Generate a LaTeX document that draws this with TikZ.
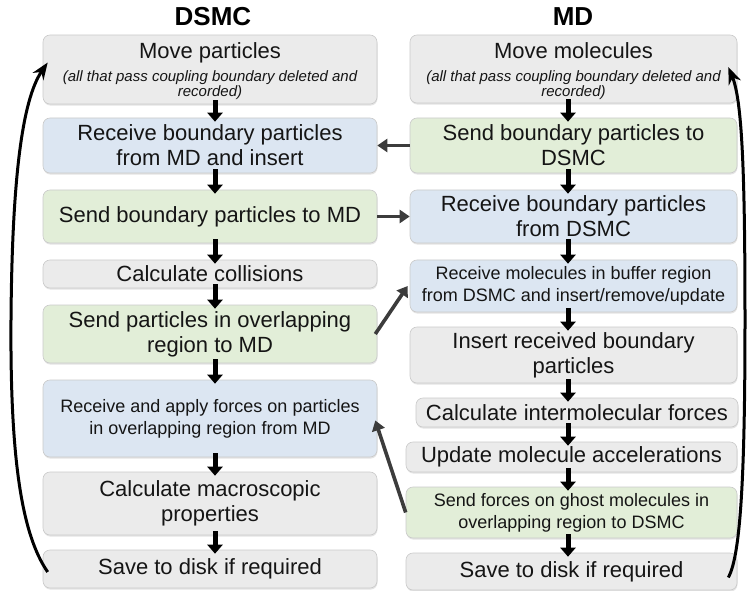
\documentclass[tikz,border=0pt]{standalone}
\usepackage{fontspec}
\setmainfont{Liberation Sans}
\usetikzlibrary{arrows.meta,shadows}

\definecolor{boxgray}{HTML}{EBEBEB}
\definecolor{boxblue}{HTML}{DCE6F2}
\definecolor{boxgreen}{HTML}{E2EED8}
\definecolor{edgegray}{HTML}{CACACA}
\definecolor{linkgray}{HTML}{3C3C3C}
\definecolor{ink}{HTML}{151515}

\newcommand{\notefont}{\fontsize{15}{17}\selectfont\itshape}

\tikzset{
  stepbox/.style={draw=edgegray, line width=0.6pt, rounded corners=7pt,
    align=center, inner sep=2pt, text=ink,
    drop shadow={shadow xshift=0.5pt, shadow yshift=-1.6pt, opacity=0.22},
    font=\fontsize{22}{25}\selectfont},
  lbox/.style={stepbox, minimum width=334pt},
  rbox/.style={stepbox, minimum width=327pt},
  grayf/.style={fill=boxgray},
  bluef/.style={fill=boxblue},
  greenf/.style={fill=boxgreen},
  smalltext/.style={font=\fontsize{18}{22}\selectfont},
  boxtext/.style={inner sep=0pt, text=ink, font=\fontsize{22}{25}\selectfont},
  flow/.style={-{Triangle[length=9pt,width=15pt]}, line width=5pt, black,
    shorten <=-4pt, shorten >=-4pt},
  link/.style={-{Triangle[length=10pt,width=13pt]}, line width=3.6pt, linkgray},
  loopback/.style={-{Stealth[length=17pt,width=13pt]}, line width=3pt, black},
  heading/.style={font=\fontsize{26}{30}\selectfont\bfseries, text=black}
}

\begin{document}
\begin{tikzpicture}[x=1pt, y=-1pt]
\useasboundingbox (0,0) rectangle (748,591);

% column headings
\node[heading] (hl) at (213,17) {DSMC};
\node[heading] (hr) at (573,17) {MD};

% x positions of the vertical flow arrows
\coordinate (lx) at (215,0);
\coordinate (rx) at (568,0);

% DSMC column
\node[lbox, grayf, minimum height=69pt] (L1) at (210,69.5) {};
\node[boxtext] (L1t) at (210,73)
  {\begin{tabular}{@{}c@{}}Move particles\\[-2pt]
   {\notefont (all that pass coupling boundary deleted and}\\[-10pt]
   {\notefont recorded)}\end{tabular}};
\node[lbox, bluef, minimum height=55pt] (L2) at (210,145.5)
  {Receive boundary particles\\ from MD and insert};
\node[lbox, greenf, minimum height=53pt] (L3) at (210,216.5)
  {Send boundary particles to MD};
\node[lbox, grayf, minimum height=28pt] (L4) at (210,274)
  {Calculate collisions};
\node[lbox, greenf, minimum height=58pt] (L5) at (210,334)
  {Send particles in overlapping\\ region to MD};
\node[lbox, bluef, minimum height=77pt, smalltext] (L6) at (210,418.5)
  {Receive and apply forces on particles\\ in overlapping region from MD};
\node[lbox, grayf, minimum height=63pt] (L7) at (210,503.5)
  {Calculate macroscopic\\ properties};
\node[lbox, grayf, minimum height=38pt] (L8) at (210,569)
  {Save to disk if required};

% MD column
\node[rbox, grayf, minimum height=68pt] (R1) at (573.5,69) {};
\node[boxtext] (R1t) at (573.5,73)
  {\begin{tabular}{@{}c@{}}Move molecules\\[-2pt]
   {\notefont (all that pass coupling boundary deleted and}\\[-10pt]
   {\notefont recorded)}\end{tabular}};
\node[rbox, greenf, minimum height=55pt] (R2) at (573.5,145.5)
  {Send boundary particles to\\ DSMC};
\node[rbox, bluef, minimum height=53pt] (R3) at (573.5,216.5)
  {Receive boundary particles\\ from DSMC};
\node[rbox, bluef, minimum height=52pt, smalltext] (R4) at (573.5,286)
  {Receive molecules in buffer region\\ from DSMC and insert/remove/update};
\node[rbox, grayf, minimum height=56pt] (R5) at (573.5,355)
  {Insert received boundary\\ particles};
\node[rbox, grayf, minimum height=29pt, minimum width=322pt] (R6) at (577,412.5)
  {Calculate intermolecular forces};
\node[rbox, grayf, minimum height=30pt, minimum width=331pt] (R7) at (571.5,457)
  {Update molecule accelerations};
\node[rbox, greenf, minimum height=51pt, minimum width=331pt, smalltext] (R8) at (571.5,512.5)
  {Send forces on ghost molecules in\\ overlapping region to DSMC};
\node[rbox, grayf, minimum height=37pt, minimum width=331pt] (R9) at (571.5,571.5)
  {Save to disk if required};

% vertical flow, DSMC
\foreach \a/\b in {L1/L2, L2/L3, L3/L4, L4/L5, L5/L6, L6/L7, L7/L8}
  \draw[flow] (\a.south -| lx) -- (\b.north -| lx);

% vertical flow, MD
\foreach \a/\b in {R1/R2, R2/R3, R3/R4, R4/R5, R5/R6, R6/R7, R7/R8, R8/R9}
  \draw[flow] (\a.south -| rx) -- (\b.north -| rx);

% exchanges between the two solvers
\draw[link] (R2.west) -- (L2.east);
\draw[link] (L3.east) -- (R3.west);
\draw[link] ([xshift=-2pt]L5.east) -- ([xshift=-2pt]R4.west);
\draw[link] (R8.west) -- ([xshift=-2pt, yshift=-2pt]L6.east);

% time-step loops
\draw[loopback] ([xshift=5pt, yshift=-3pt]L8.west)
  .. controls (22,535) and (10,460) .. (11,320)
  .. controls (12,180) and (22,100) .. ([xshift=5pt, yshift=7pt]L1.west);
\draw[loopback] ([xshift=-9pt, yshift=-6pt]R9.east)
  .. controls (741,555) and (745,470) .. (745,320)
  .. controls (745,170) and (742,100) .. ([xshift=-9pt, yshift=2pt]R1.east);
\end{tikzpicture}
\end{document}
